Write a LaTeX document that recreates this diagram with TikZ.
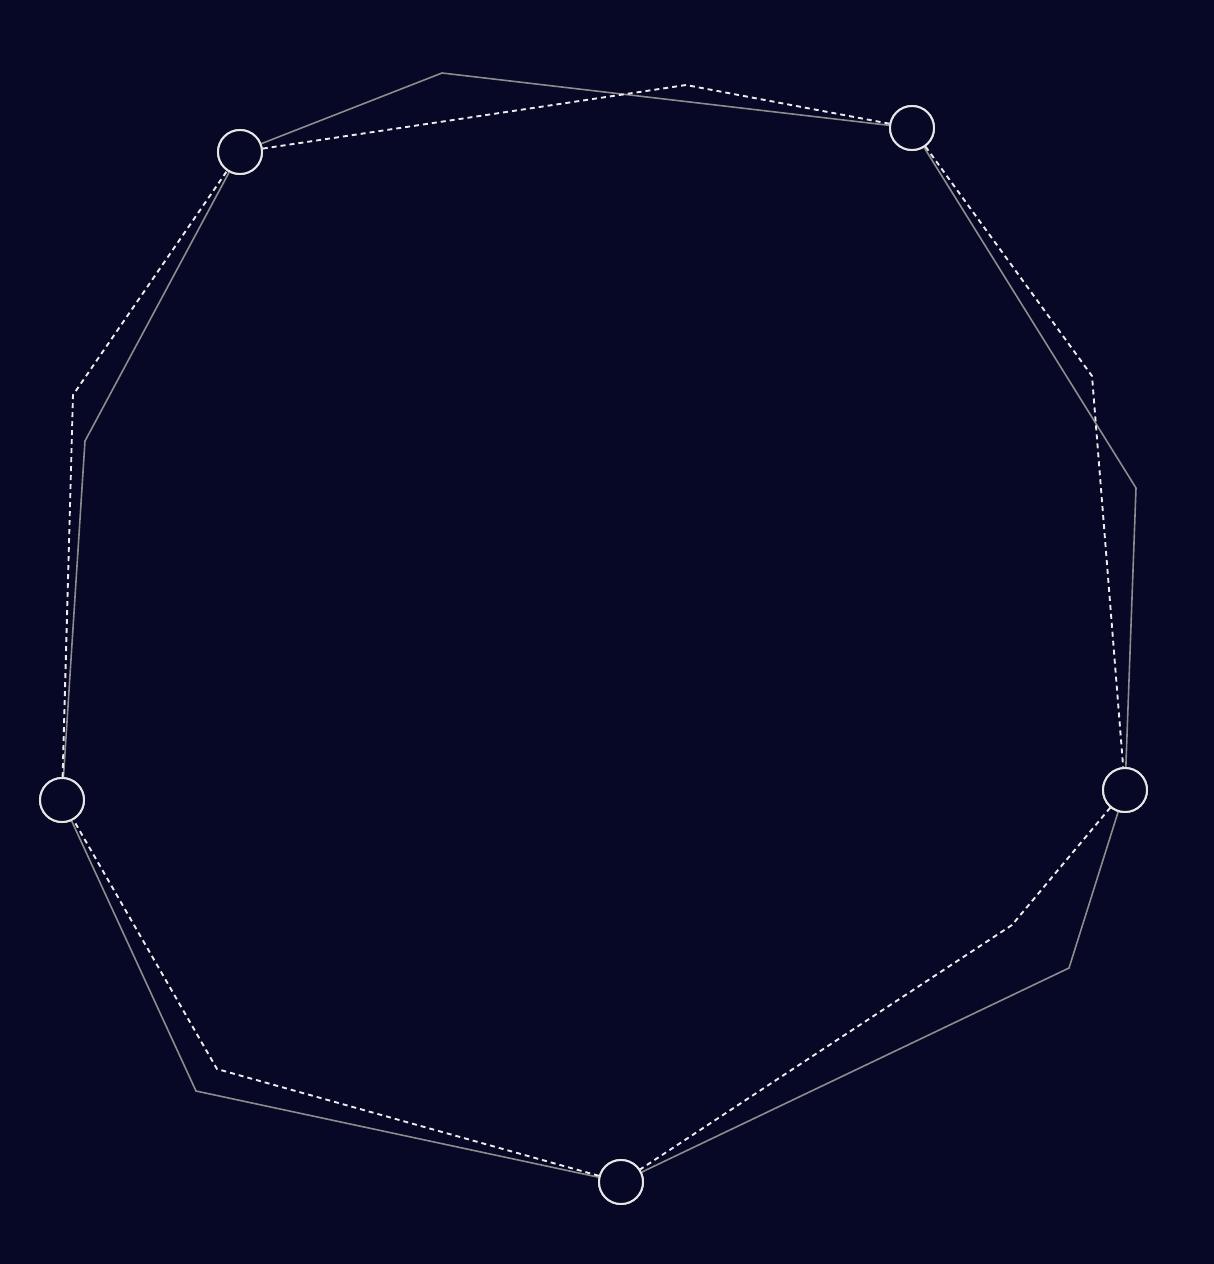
\documentclass[tikz,border=0pt]{standalone}
\definecolor{bg}{RGB}{7,7,38}
\definecolor{edgegray}{RGB}{140,140,140}
\begin{document}
\begin{tikzpicture}[x=1pt,y=-1pt,
  station/.style={circle,draw=white!90!black,line width=2pt,fill=bg,minimum size=44pt,inner sep=0pt},
  solidedge/.style={draw=edgegray,line width=1.6pt},
  dashedge/.style={draw=white!92!black,line width=1.9pt,dash pattern=on 5pt off 4pt}]
\fill[bg] (0,0) rectangle (1214,1264);
\useasboundingbox (0,0) rectangle (1214,1264);
% nodes
\node[station] (A) at (240,152) {};
\node[station] (B) at (912,128) {};
\node[station] (C) at (62,800) {};
\node[station] (D) at (621,1182) {};
\node[station] (E) at (1125,790) {};
% bend points
\coordinate (s1) at (442,73);
\coordinate (s2) at (1136,488);
\coordinate (s3) at (1069,968);
\coordinate (s4) at (196,1091);
\coordinate (s5) at (85,441);
\coordinate (d1) at (686,85);
\coordinate (d2) at (1092,376);
\coordinate (d3) at (1012,925);
\coordinate (d4) at (217,1069);
\coordinate (d5) at (73,395);
% solid
\draw[solidedge] (A) -- (s1) -- (B);
\draw[solidedge] (B) -- (s2) -- (E);
\draw[solidedge] (E) -- (s3) -- (D);
\draw[solidedge] (D) -- (s4) -- (C);
\draw[solidedge] (C) -- (s5) -- (A);
% dashed
\draw[dashedge] (A) -- (d1) -- (B);
\draw[dashedge] (B) -- (d2) -- (E);
\draw[dashedge] (E) -- (d3) -- (D);
\draw[dashedge] (D) -- (d4) -- (C);
\draw[dashedge] (C) -- (d5) -- (A);
% redraw nodes on top
\node[station] at (A) {};
\node[station] at (B) {};
\node[station] at (C) {};
\node[station] at (D) {};
\node[station] at (E) {};
\end{tikzpicture}
\end{document}
